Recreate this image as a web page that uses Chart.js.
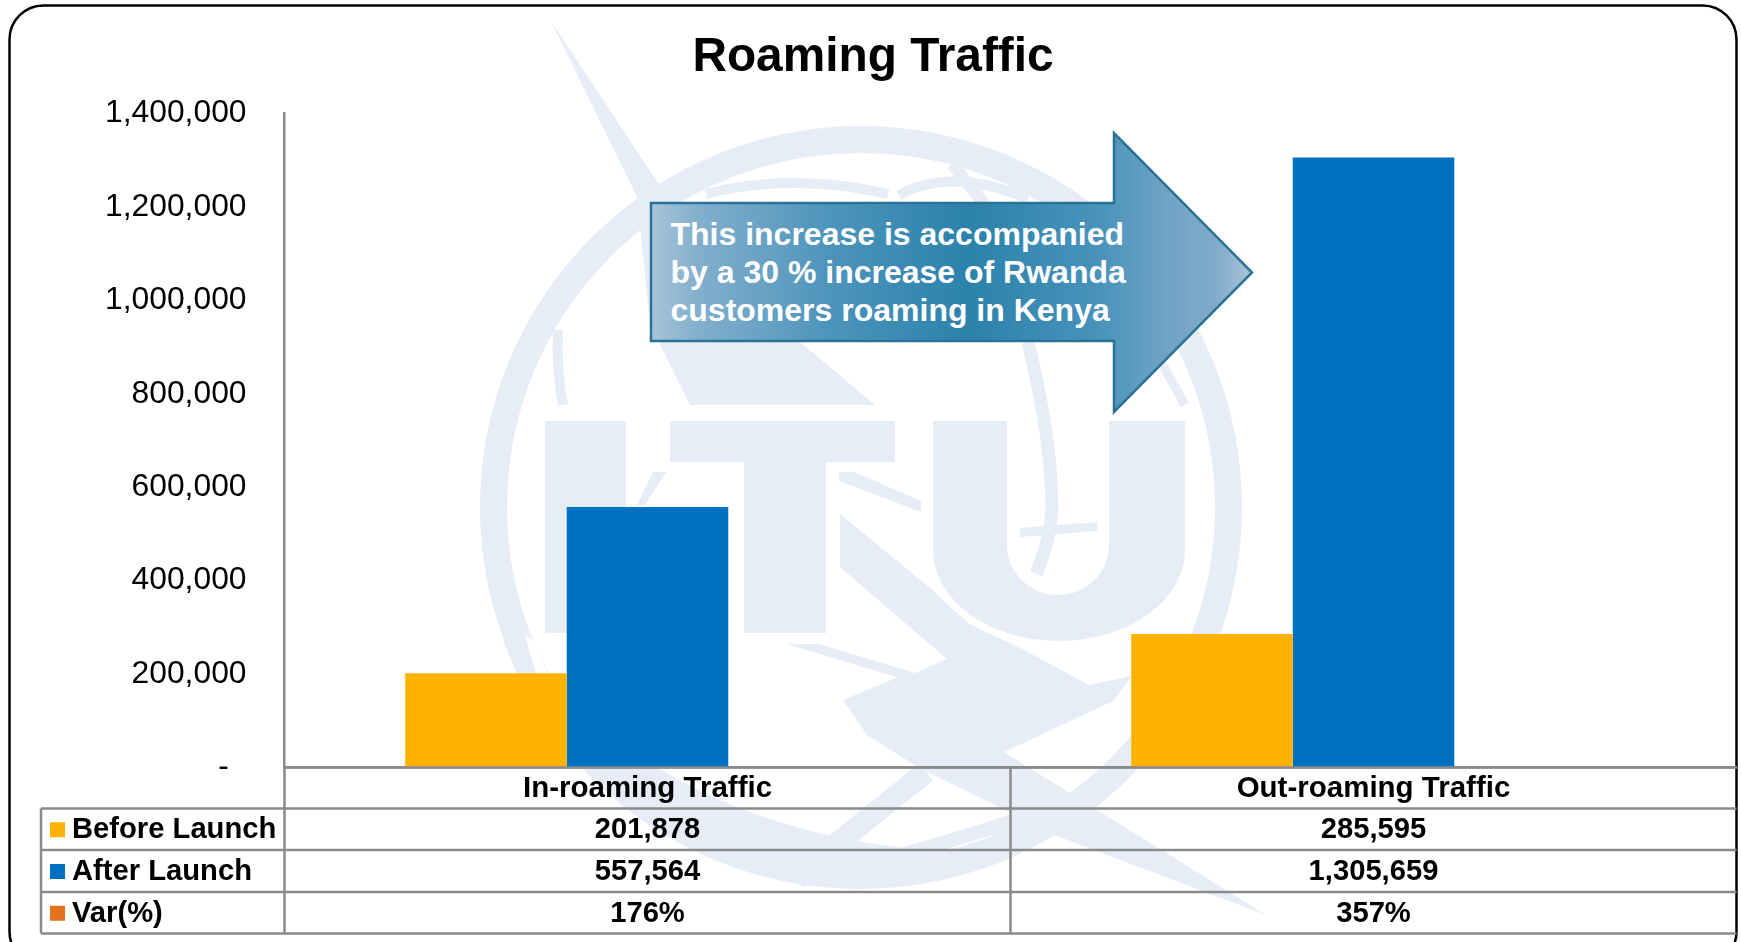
<!DOCTYPE html>
<html>
<head>
<meta charset="utf-8">
<title>Roaming Traffic</title>
<script src="https://cdn.jsdelivr.net/npm/chart.js@4"></script>
<style>
html,body{margin:0;padding:0;background:#fff;width:1741px;height:942px;overflow:hidden}
#wrap{position:relative;width:1741px;height:942px}
#bg,#c{position:absolute;left:0;top:0}
</style>
</head>
<body>
<div id="wrap">
<svg id="bg" width="1741" height="942" viewBox="0 0 1741 942" xmlns="http://www.w3.org/2000/svg">
  <defs>
    <linearGradient id="ag" x1="650" x2="1252" y1="0" y2="0" gradientUnits="userSpaceOnUse">
      <stop offset="0" stop-color="#A9C4DA"/>
      <stop offset="0.08" stop-color="#82AFCC"/>
      <stop offset="0.3" stop-color="#4D94BB"/>
      <stop offset="0.53" stop-color="#2B82AB"/>
      <stop offset="0.75" stop-color="#4A93BB"/>
      <stop offset="0.85" stop-color="#6EA2C5"/>
      <stop offset="0.94" stop-color="#80ABC9"/>
      <stop offset="1" stop-color="#A9C4DA"/>
    </linearGradient>
  </defs>
  <rect x="9.500" y="5.500" width="1727" height="960" rx="34" ry="34" fill="#fff" stroke="#000" stroke-width="2.500"/>
  <g fill="#E6EDF7" stroke="none">
    <circle cx="861" cy="507" r="367.500" fill="none" stroke="#E6EDF7" stroke-width="27"/>
    <path d="M503 640A381 381 0 0 0 1022 853Q760 860 590 720Q520 660 503 640Z"/>
    <g fill="none" stroke="#E6EDF7">
      <path d="M706 194Q792 172 888 194" stroke-width="10"/>
      <path d="M899 195Q953 166 1028 199" stroke-width="10"/>
      <path d="M952 164L985 205" stroke-width="12"/>
      <path d="M1028 342Q1052 440 1052 510Q1050 540 1036 574" stroke-width="13"/>
      <path d="M1150 342L1185 405" stroke-width="9"/>
      <path d="M558 330Q556 370 563 405" stroke-width="10"/>
      <path d="M926 772L835 845" stroke-width="22"/>
      <path d="M1030 815Q930 850 800 880" stroke-width="14"/>
    </g>
    <polygon points="551,21 658,183 800,342 875,405 690,405 650,324 637,197"/>
    <rect x="545" y="421" width="81" height="212"/>
    <rect x="670" y="421" width="225" height="41"/>
    <rect x="744" y="462" width="82" height="171"/>
    <path d="M933 421H1007V545A51 50 0 0 0 1109 545V421H1185V550A126 91 0 0 1 933 550Z"/>
    <polygon points="839,472 854,472 921,501 921,512 839,481"/>
    <polygon points="653,472 666,472 645,505 637,505"/>
    <polygon points="1020,528 1097,522 1097,531 1020,537"/>
    <polygon points="787,644 819,644 915,673 899,678"/>
    <polygon points="840,514 929,587 969,624 1022,649 1089,685 1132,676 1113,701 1004,752 1266,915 1057,836 1028,821 921,769 867,735 843,700 896,678 915,673 947,659 840,567"/>
    <polygon points="1197,428 1207,440 1210,462 1197,455" fill="#fff"/>
    <polygon points="525,635 533,640 550,680 560,705 535,670" fill="#fff"/>
  </g>
  <path d="M651 203H1114V133L1252 272.500L1114 412V341H651Z" fill="url(#ag)" stroke="#2A7396" stroke-width="2.500"/>
  <g font-family="'Liberation Sans',Arial,sans-serif" font-weight="700" font-size="32" fill="#fff">
    <text x="670.500" y="245">This increase is accompanied</text>
    <text x="670.500" y="283">by a 30 % increase of Rwanda</text>
    <text x="670.500" y="321">customers roaming in Kenya</text>
  </g>
</svg>
<canvas id="c" width="1741" height="942"></canvas>
</div>
<script>
const categories = ['In-roaming Traffic', 'Out-roaming Traffic'];
const seriesNames = ['Before Launch', 'After Launch', 'Var(%)'];
const beforeLaunch = [201878, 285595];
const afterLaunch = [557564, 1305659];
const varPercent = [1.76, 3.57];
const seriesColors = ['#FFB300', '#0070C0', '#E3711E'];
const chartTitle = 'Roaming Traffic';
const FONT = "'Liberation Sans', Arial, sans-serif";

const fmt = v => v.toLocaleString('en-US');
const tableRows = [
  beforeLaunch.map(fmt),
  afterLaunch.map(fmt),
  varPercent.map(v => Math.round(v * 100) + '%')
];

const dataTable = {
  id: 'dataTable',
  afterDraw(chart) {
    const ctx = chart.ctx, x = chart.scales.x;
    const rowY = [chart.chartArea.bottom, 808.5, 850, 892, 933.5];
    const tableLeft = 41;
    const mid = (x.getPixelForTick(0) + x.getPixelForTick(1)) / 2;
    ctx.save();
    ctx.strokeStyle = '#8A8A8A';
    ctx.lineWidth = 2.5;
    ctx.beginPath();
    rowY.forEach((y, i) => {
      ctx.moveTo(i === 0 ? x.left : tableLeft, y);
      ctx.lineTo(x.right, y);
    });
    [x.left, mid].forEach(px => { ctx.moveTo(px, rowY[0]); ctx.lineTo(px, rowY[4]); });
    ctx.moveTo(tableLeft, rowY[1]); ctx.lineTo(tableLeft, rowY[4]);
    ctx.stroke();
    ctx.fillStyle = '#000';
    ctx.textBaseline = 'middle';
    ctx.font = 'bold 29.2px ' + FONT;
    tableRows.forEach((row, r) => {
      const yc = (rowY[r + 1] + rowY[r + 2]) / 2 + 1;
      ctx.fillStyle = seriesColors[r];
      ctx.fillRect(50, yc - 8, 15, 15);
      ctx.fillStyle = '#000';
      ctx.textAlign = 'left';
      ctx.fillText(seriesNames[r], 72, yc);
      ctx.textAlign = 'center';
      row.forEach((s, i) => ctx.fillText(s, x.getPixelForTick(i), yc));
    });
    ctx.restore();
  }
};

new Chart(document.getElementById('c'), {
  type: 'bar',
  data: {
    labels: categories,
    datasets: [
      { label: seriesNames[0], data: beforeLaunch, backgroundColor: seriesColors[0] },
      { label: seriesNames[1], data: afterLaunch, backgroundColor: seriesColors[1] },
      { label: seriesNames[2], data: varPercent, backgroundColor: seriesColors[2] }
    ]
  },
  plugins: [dataTable],
  options: {
    responsive: false,
    animation: false,
    layout: { padding: { left: 9.5, right: 4.5, top: 0, bottom: 0 } },
    datasets: { bar: { categoryPercentage: 0.6675, barPercentage: 1, borderWidth: 0 } },
    plugins: {
      legend: { display: false },
      tooltip: { enabled: false },
      title: {
        display: true,
        text: chartTitle,
        color: '#000',
        font: { family: FONT, size: 47.8, weight: 'bold', lineHeight: 1.2 },
        padding: { top: 29.5, bottom: 26.64 }
      }
    },
    scales: {
      x: {
        afterFit(s) { s.height = 174.5; },
        grid: { display: false, drawTicks: false },
        border: { color: '#8A8A8A', width: 2.5 },
        ticks: { color: '#000', font: { family: FONT, size: 29.5, weight: 'bold' }, padding: 4, maxRotation: 0 }
      },
      y: {
        min: 0,
        max: 1400000,
        afterFit(s) { s.width = 275; },
        grid: { display: false, drawTicks: false },
        border: { color: '#8A8A8A', width: 2.5 },
        ticks: {
          stepSize: 200000,
          color: '#000',
          font: { family: FONT, size: 31.8 },
          padding: 38,
          callback: v => v === 0 ? '-  ' : fmt(v)
        }
      }
    }
  }
});
</script>
</body>
</html>
